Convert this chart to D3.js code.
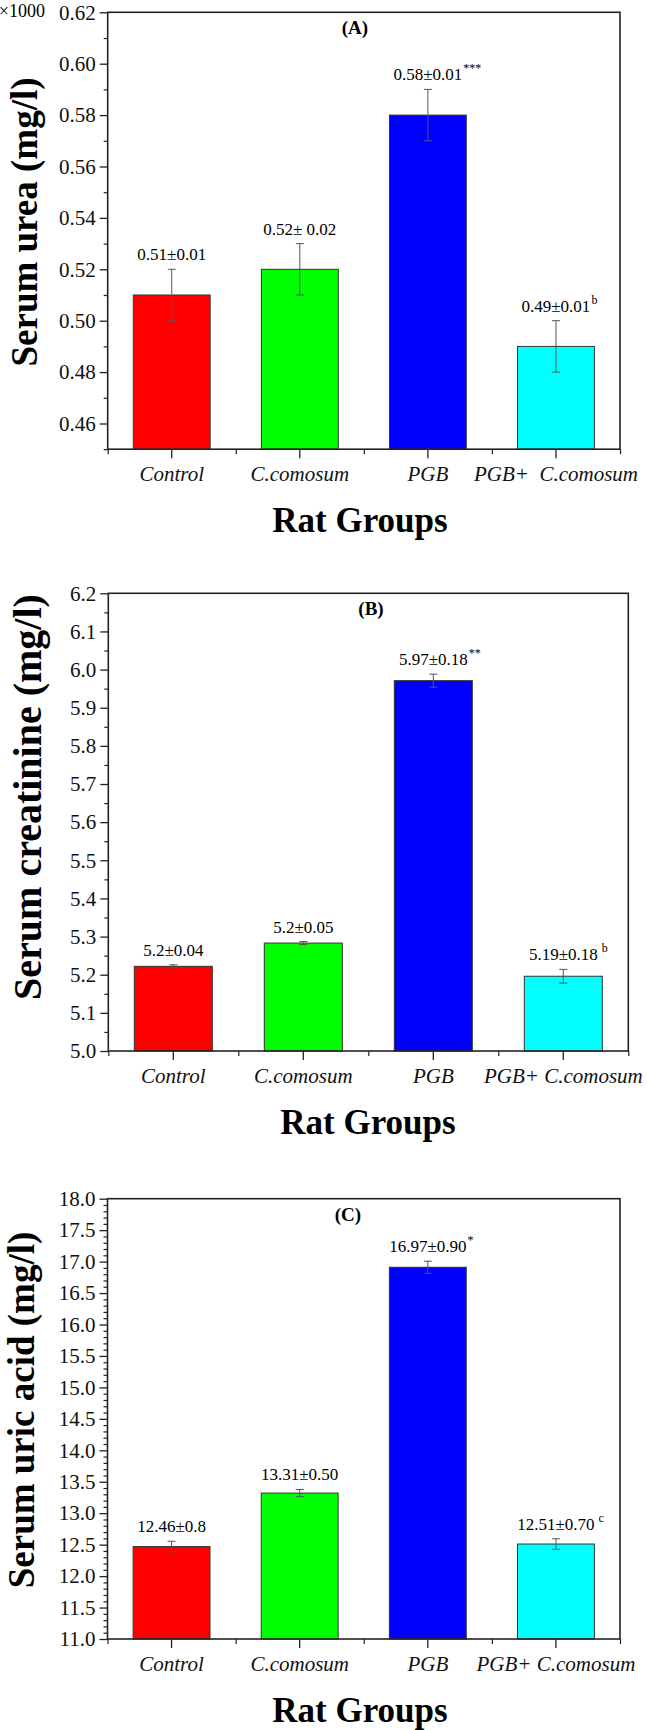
<!DOCTYPE html>
<html>
<head>
<meta charset="utf-8">
<script src="https://cdn.jsdelivr.net/npm/d3@7"></script>
<style>
  body { margin: 0; background: #fff; }
  svg { display: block; font-family: "Liberation Serif", "Times New Roman", serif; }
  text { white-space: pre; }
</style>
</head>
<body>
<svg id="chart" width="647" height="1730"></svg>
<script>
// values
var groups = ["Control", "C.comosum", "PGB", "PGB+ C.comosum"];
var groupsA = ["Control", "C.comosum", "PGB", "PGB+  C.comosum"];
var barColors = ["#ff0000", "#00ff00", "#0000ff", "#00ffff"];

// (A) serum urea, x1000
var ureaMean = [0.51, 0.52, 0.58, 0.49];
var ureaErr = [0.01, 0.01, 0.01, 0.01];
var ureaText = ["0.51±0.01", "0.52± 0.02", "0.58±0.01", "0.49±0.01"];
var ureaSup = ["", "", "***", "b"];
var ureaTicks = [0.46, 0.48, 0.50, 0.52, 0.54, 0.56, 0.58, 0.60, 0.62];

// (B) serum creatinine
var creatMean = [5.222, 5.283, 5.971, 5.196];
var creatErr = [0.004, 0.004, 0.017, 0.018];
var creatText = ["5.2±0.04", "5.2±0.05", "5.97±0.18", "5.19±0.18"];
var creatSup = ["", "", "**", " b"];
var creatTicks = [5.0, 5.1, 5.2, 5.3, 5.4, 5.5, 5.6, 5.7, 5.8, 5.9, 6.0, 6.1, 6.2];

// (C) serum uric acid
var uricMean = [12.47, 13.32, 16.91, 12.51];
var uricErr = [0.084, 0.057, 0.096, 0.084];
var uricText = ["12.46±0.8", "13.31±0.50", "16.97±0.90", "12.51±0.70"];
var uricSup = ["", "", "*", " c"];
var uricTicks = [11.0, 11.5, 12.0, 12.5, 13.0, 13.5, 14.0, 14.5, 15.0, 15.5, 16.0, 16.5, 17.0, 17.5, 18.0];

var svg = d3.select("#chart");

svg.append("rect")
  .attr("width", "100%")
  .attr("height", "100%")
  .attr("fill", "white");

function drawPanel(p) {
  var g = svg.append("g");

  var x = d3.scaleBand()
    .domain(d3.range(p.mean.length))
    .range([p.left, p.right])
    .paddingInner(0.4)
    .paddingOuter(0.2);

  var y = d3.scaleLinear()
    .domain(p.domain)
    .range([p.bottom, p.top]);

  // bars
  g.selectAll("rect.bar")
    .data(p.mean)
    .enter()
    .append("rect")
    .attr("class", "bar")
    .attr("x", (d, i) => x(i))
    .attr("y", d => y(d))
    .attr("width", x.bandwidth())
    .attr("height", d => y(p.domain[0]) - y(d))
    .attr("fill", (d, i) => barColors[i])
    .attr("stroke", "#333")
    .attr("stroke-width", 1);

  // error bars
  var eb = g.selectAll("g.err")
    .data(p.mean)
    .enter()
    .append("g")
    .attr("stroke", "#555")
    .attr("stroke-width", 1);
  var cx = i => x(i) + x.bandwidth() / 2;
  eb.append("line")
    .attr("x1", (d, i) => cx(i)).attr("x2", (d, i) => cx(i))
    .attr("y1", (d, i) => y(d - p.err[i])).attr("y2", (d, i) => y(d + p.err[i]));
  eb.append("line")
    .attr("x1", (d, i) => cx(i) - 4).attr("x2", (d, i) => cx(i) + 4)
    .attr("y1", (d, i) => y(d + p.err[i])).attr("y2", (d, i) => y(d + p.err[i]));
  eb.append("line")
    .attr("x1", (d, i) => cx(i) - 4).attr("x2", (d, i) => cx(i) + 4)
    .attr("y1", (d, i) => y(d - p.err[i])).attr("y2", (d, i) => y(d - p.err[i]));

  // value labels + superscripts
  p.mean.forEach(function (d, i) {
    var ty = y(d + p.err[i]) - 9;
    var t = g.append("text")
      .attr("x", cx(i))
      .attr("y", ty)
      .attr("text-anchor", "middle")
      .style("font-size", "17px")
      .text(p.text[i]);
    if (p.sup[i]) {
      var w = t.node().getComputedTextLength();
      g.append("text")
        .attr("x", cx(i) + w / 2 + 1)
        .attr("y", ty - 8)
        .style("font-size", "12px")
        .text(p.sup[i]);
    }
  });

  // left axis, major + minor
  var yAxis = d3.axisLeft(y)
    .tickValues(p.ticks)
    .tickFormat(d3.format(p.fmt))
    .tickSize(8)
    .tickPadding(4)
    .tickSizeOuter(0);
  var ya = g.append("g")
    .attr("transform", `translate(${p.left},0)`)
    .call(yAxis);
  ya.select(".domain").remove();
  ya.selectAll("line").attr("stroke", "#222").attr("stroke-width", 1.3);
  ya.selectAll("text")
    .attr("fill", "#111")
    .style("font-family", "'Liberation Serif', serif")
    .style("font-size", "21px");

  var minors = d3.range(p.domain[0], p.domain[1] + 1e-9, p.minor)
    .filter(v => !p.ticks.some(t => Math.abs(t - v) < 1e-6));
  var ym = g.append("g")
    .attr("transform", `translate(${p.left},0)`)
    .call(d3.axisLeft(y).tickValues(minors).tickSize(4).tickFormat("").tickSizeOuter(0));
  ym.select(".domain").remove();
  ym.selectAll("line").attr("stroke", "#222").attr("stroke-width", 1.2);

  // bottom axis: major ticks at bar centres, minor at band edges
  var xa = g.append("g")
    .attr("transform", `translate(0,${p.bottom})`)
    .call(d3.axisBottom(x).tickSize(9).tickPadding(8).tickSizeOuter(0).tickFormat(i => p.groups[i]));
  xa.select(".domain").remove();
  xa.selectAll("line").attr("stroke", "#222").attr("stroke-width", 1.3);
  xa.selectAll("text")
    .attr("fill", "#111")
    .style("font-family", "'Liberation Serif', serif")
    .style("font-style", "italic")
    .style("font-size", "21px");

  var edge = d3.scaleLinear().domain([0, p.mean.length]).range([p.left, p.right]);
  var xm = g.append("g")
    .attr("transform", `translate(0,${p.bottom})`)
    .call(d3.axisBottom(edge).tickValues(d3.range(p.mean.length + 1)).tickSize(5).tickFormat("").tickSizeOuter(0));
  xm.select(".domain").remove();
  xm.selectAll("line").attr("stroke", "#222").attr("stroke-width", 1.2);

  // frame
  g.append("rect")
    .attr("x", p.left)
    .attr("y", p.top)
    .attr("width", p.right - p.left)
    .attr("height", p.bottom - p.top)
    .attr("fill", "none")
    .attr("stroke", "#222")
    .attr("stroke-width", 1.6);

  // panel letter
  g.append("text")
    .attr("x", p.letterX)
    .attr("y", p.top + 22)
    .attr("text-anchor", "middle")
    .style("font-size", "19px")
    .style("font-weight", "bold")
    .text(p.letter);

  // axis titles
  g.append("text")
    .attr("transform", `translate(${p.titleX},${p.titleY}) rotate(-90)`)
    .attr("text-anchor", "middle")
    .style("font-size", p.titleSize + "px")
    .style("font-weight", "bold")
    .text(p.title);

  g.append("text")
    .attr("x", p.xTitleX)
    .attr("y", p.bottom + 83)
    .attr("text-anchor", "middle")
    .style("font-size", "35px")
    .style("font-weight", "bold")
    .text("Rat Groups");
}

drawPanel({
  mean: ureaMean, err: ureaErr, text: ureaText, sup: ureaSup, groups: groupsA,
  ticks: ureaTicks, minor: 0.01, fmt: ".2f", domain: [0.45, 0.62],
  left: 107.7, right: 620, top: 12.3, bottom: 449.2,
  letter: "(A)", letterX: 355,
  title: "Serum urea (mg/l)", titleX: 37, titleY: 222, titleSize: 37,
  xTitleX: 360
});

drawPanel({
  mean: creatMean, err: creatErr, text: creatText, sup: creatSup, groups: groups,
  ticks: creatTicks, minor: 0.05, fmt: ".1f", domain: [5.0, 6.2],
  left: 108.3, right: 628.3, top: 593.3, bottom: 1051,
  letter: "(B)", letterX: 371,
  title: "Serum creatinine (mg/l)", titleX: 41, titleY: 797, titleSize: 40,
  xTitleX: 368
});

drawPanel({
  mean: uricMean, err: uricErr, text: uricText, sup: uricSup, groups: groups,
  ticks: uricTicks, minor: 0.1, fmt: ".1f", domain: [11, 18],
  left: 107.5, right: 620, top: 1198.7, bottom: 1639,
  letter: "(C)", letterX: 348,
  title: "Serum uric acid (mg/l)", titleX: 34, titleY: 1410, titleSize: 37,
  xTitleX: 360
});

// multiplier note on panel A
svg.append("text")
  .attr("x", 45)
  .attr("y", 17)
  .attr("text-anchor", "end")
  .style("font-size", "18px")
  .text("×1000");
</script>
</body>
</html>
